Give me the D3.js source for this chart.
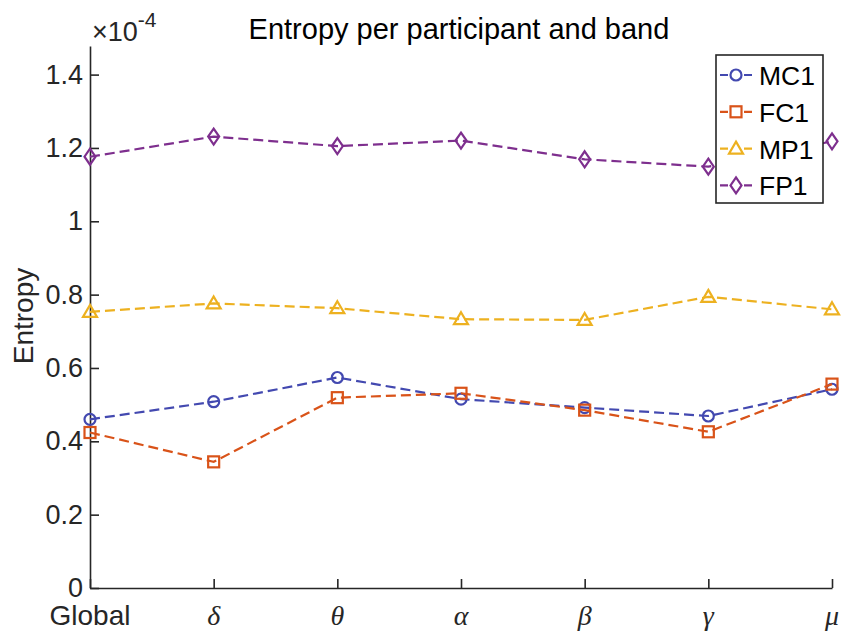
<!DOCTYPE html>
<html>
<head>
<meta charset="utf-8">
<script src="https://cdn.jsdelivr.net/npm/d3@7"></script>
<style>
  body { margin: 0; background: #fff; }
  svg { display: block; font-family: "Liberation Sans", Arial, sans-serif; }
</style>
</head>
<body>
<svg width="845" height="631"></svg>
<script>
// bands on the x axis
let bands = ["Global", "δ", "θ", "α", "β", "γ", "μ"];

// entropy values, in units of 1e-4
let mc1 = [0.460, 0.508, 0.574, 0.515, 0.492, 0.469, 0.542];
let fc1 = [0.424, 0.344, 0.519, 0.531, 0.485, 0.426, 0.556];
let mp1 = [0.753, 0.776, 0.763, 0.733, 0.731, 0.794, 0.760];
let fp1 = [1.176, 1.231, 1.205, 1.220, 1.169, 1.149, 1.218];

let yTicks = [0, 0.2, 0.4, 0.6, 0.8, 1, 1.2, 1.4];

let series = [
  { name: "MC1", values: mc1, color: "#4349b0", marker: "circle" },
  { name: "FC1", values: fc1, color: "#d95319", marker: "square" },
  { name: "MP1", values: mp1, color: "#edb120", marker: "triangle" },
  { name: "FP1", values: fp1, color: "#7e2f8e", marker: "diamond" },
];

let svg = d3.select("svg");
let axisColor = "#262626";

let x = d3.scalePoint().domain(bands).range([90, 832]);
let y = d3.scaleLinear().domain([0, 1.478]).range([588, 46]);

// axes (box off, ticks pointing inward)
let xAxis = svg.append("g").attr("transform", "translate(0,588)")
  .call(d3.axisBottom(x).tickSizeInner(-9).tickSizeOuter(0).tickFormat(""));
let yAxis = svg.append("g").attr("transform", "translate(90,0)")
  .call(d3.axisLeft(y).tickValues(yTicks).tickSizeInner(-9).tickSizeOuter(0)
    .tickFormat(d3.format("~g")));

[xAxis, yAxis].forEach((a) => {
  a.select(".domain").attr("stroke", axisColor).attr("stroke-width", 1.6);
  a.selectAll(".tick line").attr("stroke", axisColor).attr("stroke-width", 1.6);
});
yAxis.selectAll(".tick text")
  .attr("x", -7)
  .attr("fill", axisColor)
  .style("font-size", "27px")
  .style("font-family", "Liberation Sans, Arial, sans-serif");

// x labels: Global in sans, greek letters italic serif
svg.append("g").selectAll("text")
  .data(bands)
  .enter()
  .append("text")
  .attr("x", (d) => x(d))
  .attr("y", 625)
  .attr("text-anchor", "middle")
  .attr("fill", axisColor)
  .style("font-size", "28px")
  .style("font-family", (d, i) => i === 0 ? "Liberation Sans, Arial, sans-serif" : "Liberation Serif, Times New Roman, serif")
  .style("font-style", (d, i) => (i === 0 ? "normal" : "italic"))
  .text((d) => d);

// exponent label
let expo = svg.append("text")
  .attr("x", 92)
  .attr("y", 41)
  .attr("fill", axisColor)
  .style("font-size", "27px");
expo.append("tspan").text("×10");
expo.append("tspan").attr("dy", -14).style("font-size", "21px").text("-4");

// title and y label
svg.append("text")
  .attr("x", 459)
  .attr("y", 39)
  .attr("text-anchor", "middle")
  .attr("fill", "#000")
  .style("font-size", "29px")
  .text("Entropy per participant and band");

svg.append("text")
  .attr("transform", "translate(33,316) rotate(-90)")
  .attr("text-anchor", "middle")
  .attr("fill", axisColor)
  .style("font-size", "28px")
  .text("Entropy");

function drawMarker(g, type, color) {
  if (type === "circle") {
    g.append("circle").attr("r", 5.5);
  } else if (type === "square") {
    g.append("rect").attr("x", -5.5).attr("y", -5.5).attr("width", 11).attr("height", 11);
  } else if (type === "triangle") {
    g.append("path").attr("d", "M0,-7 L7,5 L-7,5 Z");
  } else {
    g.append("path").attr("d", "M0,-8 L5.5,0 L0,8 L-5.5,0 Z");
  }
  g.selectAll("*").attr("fill", "none").attr("stroke", color).attr("stroke-width", 2.2);
}

let line = d3.line()
  .x((d, i) => x(bands[i]))
  .y((d) => y(d));

let plot = svg.append("g");
series.forEach((s) => {
  plot.append("path")
    .attr("d", line(s.values))
    .attr("fill", "none")
    .attr("stroke", s.color)
    .attr("stroke-width", 2.2)
    .attr("stroke-dasharray", "10,5");

  plot.selectAll(null)
    .data(s.values)
    .enter()
    .append("g")
    .attr("transform", (d, i) => `translate(${x(bands[i])},${y(d)})`)
    .each(function () { drawMarker(d3.select(this), s.marker, s.color); });
});

// legend
let legend = svg.append("g");
legend.append("rect")
  .attr("x", 716).attr("y", 55).attr("width", 107).attr("height", 148)
  .attr("fill", "#fff").attr("stroke", axisColor).attr("stroke-width", 1.6);

series.forEach((s, i) => {
  let ly = 75 + i * 36.8;
  legend.append("line")
    .attr("x1", 720).attr("x2", 752).attr("y1", ly).attr("y2", ly)
    .attr("stroke", s.color).attr("stroke-width", 2.2).attr("stroke-dasharray", "8,4");
  let m = legend.append("g").attr("transform", `translate(736,${ly})`);
  drawMarker(m, s.marker, s.color);
  m.selectAll("*").attr("fill", "#fff");
  legend.append("text")
    .attr("x", 759).attr("y", ly + 10)
    .attr("fill", "#000")
    .style("font-size", "26.5px")
    .text(s.name);
});
</script>
</body>
</html>
